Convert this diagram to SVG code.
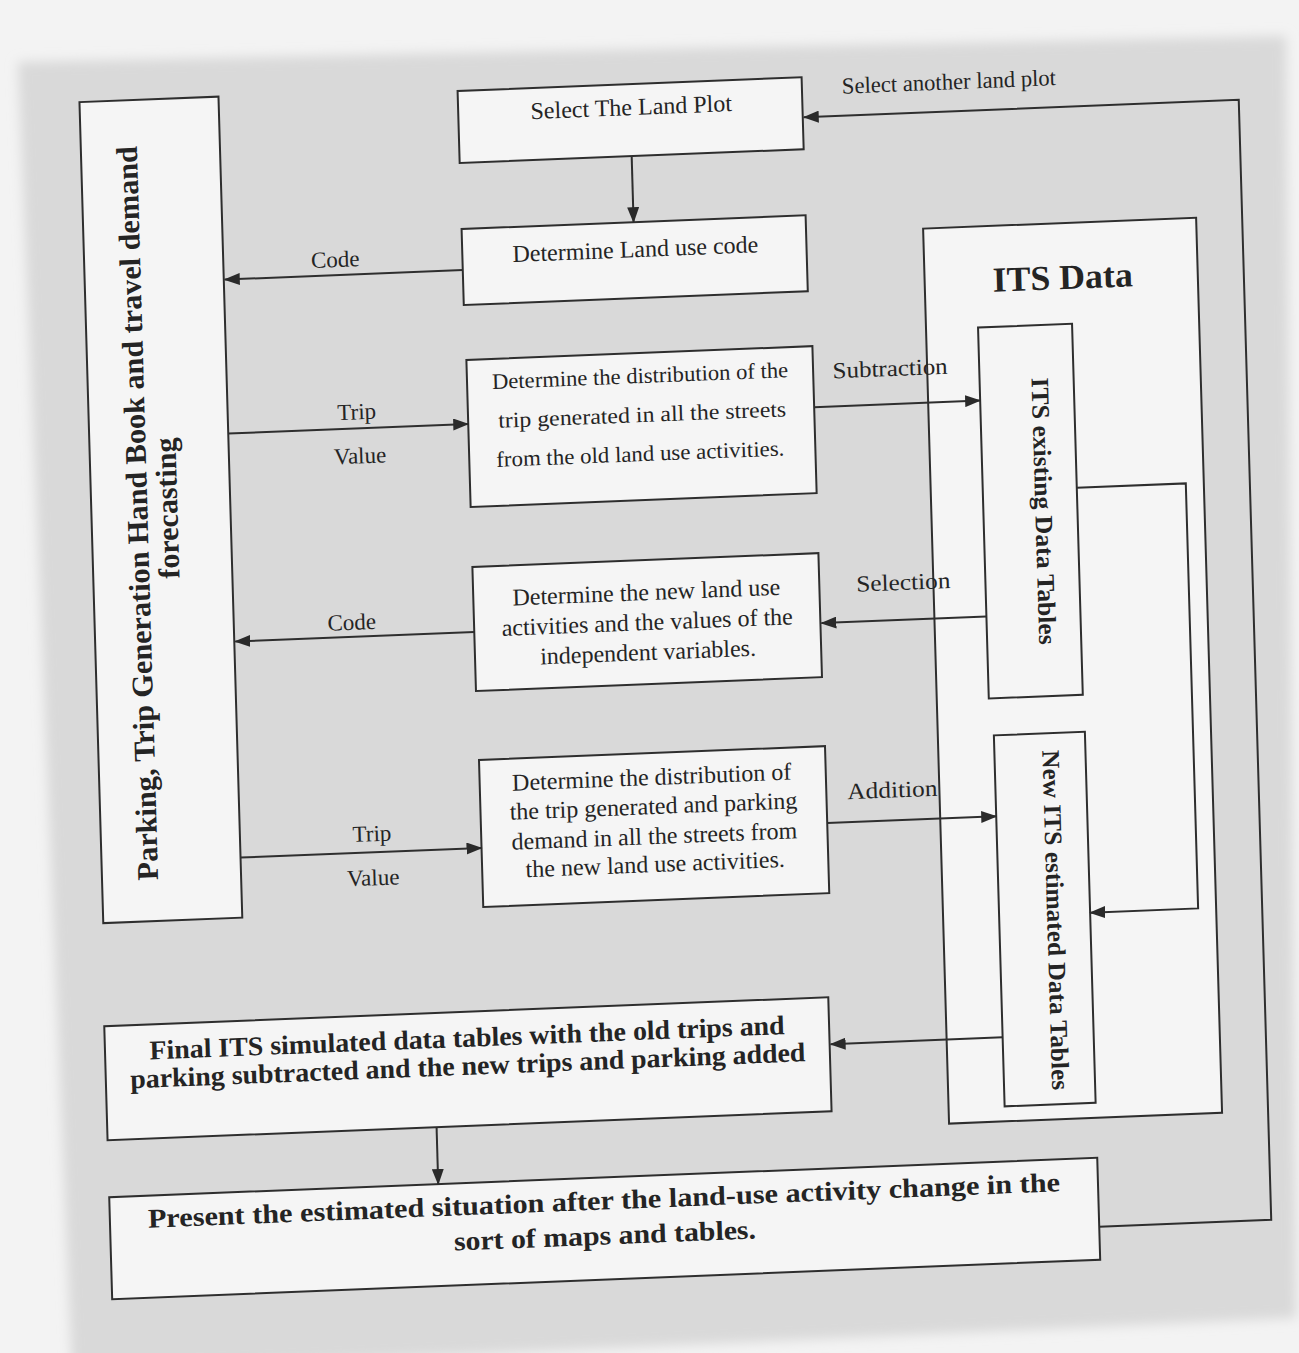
<svg xmlns="http://www.w3.org/2000/svg" width="1299" height="1353" viewBox="0 0 1299 1353">
  <defs>
    <filter id="soft" x="-5%" y="-5%" width="110%" height="110%">
      <feGaussianBlur stdDeviation="6"/>
    </filter>
    <marker id="arrow" markerUnits="userSpaceOnUse" markerWidth="16" markerHeight="12" refX="15" refY="6" orient="auto">
      <path d="M0,0 L16,6 L0,12 Z" fill="#2a2a2a"/>
    </marker>
    <style>
      .box { fill: #f5f5f5; stroke: #2e2e2e; stroke-width: 2; }
      .link-a { fill: none; stroke: #2e2e2e; stroke-width: 2; marker-end: url(#arrow); }
      text { font-family: "Liberation Serif", "Times New Roman", serif; fill: #242424; }
      .t { font-size: 24px; text-anchor: middle; }
      .s { font-size: 22px; text-anchor: middle; }
      .lbl { font-size: 23px; text-anchor: middle; }
      .b { font-size: 27px; font-weight: bold; text-anchor: middle; }
      .v { font-size: 25px; font-weight: bold; text-anchor: middle; }
    </style>
  </defs>

  <!-- sheet -->
  <rect x="0" y="0" width="1299" height="1353" fill="#f3f3f3"/>
  <polygon points="18,62 1286,36 1296,1318 72,1372" fill="#d9d9d9" filter="url(#soft)"/>

  <g transform="matrix(1,-0.04,0.029,1,-18.85,26)">
    <g id="handbook">
      <rect class="box" x="96" y="80" width="139" height="821"/>
      <text class="b" transform="translate(152,493) rotate(-90)" style="font-size:30px" textLength="734" lengthAdjust="spacingAndGlyphs">Parking, Trip Generation Hand Book and travel demand</text>
      <text class="b" transform="translate(182,489) rotate(-90)" style="font-size:30px">forecasting</text>
    </g>

    <g id="select-plot">
      <rect class="box" x="474" y="84" width="344" height="72"/>
      <text class="t" x="647" y="115">Select The Land Plot</text>
    </g>

    <g id="land-use-code">
      <rect class="box" x="474" y="222" width="344" height="76"/>
      <text class="t" x="647" y="257">Determine Land use code</text>
    </g>

    <g id="old-distribution">
      <rect class="box" x="475" y="353" width="346" height="147"/>
      <text class="s" x="648" y="383" textLength="296" lengthAdjust="spacingAndGlyphs">Determine the distribution of the</text>
      <text class="s" x="649" y="422" textLength="288" lengthAdjust="spacingAndGlyphs">trip generated in all the streets</text>
      <text class="s" x="646" y="461" textLength="288" lengthAdjust="spacingAndGlyphs">from the old land use activities.</text>
    </g>

    <g id="new-land-use">
      <rect class="box" x="475" y="560" width="346" height="124"/>
      <text class="t" x="648" y="600">Determine the new land use</text>
      <text class="t" x="648" y="630">activities and the values of the</text>
      <text class="t" x="648" y="660">independent variables.</text>
    </g>

    <g id="new-distribution">
      <rect class="box" x="476" y="753" width="346" height="147"/>
      <text class="t" x="648" y="785">Determine the distribution of</text>
      <text class="t" x="649" y="814">the trip generated and parking</text>
      <text class="t" x="649" y="844">demand in all the streets from</text>
      <text class="t" x="649" y="872">the new land use activities.</text>
    </g>

    <g id="its-data">
      <rect class="box" x="935" y="240" width="273" height="895"/>
      <text class="b" x="1073" y="306" style="font-size:35px" textLength="140" lengthAdjust="spacingAndGlyphs">ITS Data</text>
    </g>

    <g id="its-existing">
      <rect class="box" x="987" y="341" width="94" height="371"/>
      <text class="v" transform="translate(1039,527) rotate(90)" textLength="267" lengthAdjust="spacingAndGlyphs">ITS existing Data Tables</text>
    </g>

    <g id="its-new">
      <rect class="box" x="991" y="749" width="91" height="371"/>
      <text class="v" transform="translate(1039,936) rotate(90)" textLength="340" lengthAdjust="spacingAndGlyphs">New ITS estimated Data Tables</text>
    </g>

    <g id="final-tables">
      <rect class="box" x="94" y="1004" width="724" height="114"/>
      <text class="b" x="456" y="1039" textLength="635" lengthAdjust="spacingAndGlyphs">Final ITS simulated data tables with the old trips and</text>
      <text class="b" x="456" y="1067" textLength="675" lengthAdjust="spacingAndGlyphs">parking subtracted and the new trips and parking added</text>
    </g>

    <g id="present">
      <rect class="box" x="94" y="1175" width="988" height="102"/>
      <text class="b" x="588" y="1207" textLength="912" lengthAdjust="spacingAndGlyphs">Present the estimated situation after the land-use activity change in the</text>
      <text class="b" x="588" y="1242" textLength="302" lengthAdjust="spacingAndGlyphs">sort of maps and tables.</text>
    </g>

    <!-- connectors, drawn over the boxes they cross -->
    <g id="connectors">
      <path class="link-a" d="M646 156 V222"/>
      <path class="link-a" d="M474 263 H236"/>
      <path class="link-a" d="M235 417 H475"/>
      <path class="link-a" d="M475 625 H236"/>
      <path class="link-a" d="M235 841 H476"/>
      <path class="link-a" d="M821 414 H987"/>
      <path class="link-a" d="M987 630 H822"/>
      <path class="link-a" d="M822 830 H991"/>
      <path class="link-a" d="M1081 505 H1190 V930 H1082"/>
      <path class="link-a" d="M991 1051 H819"/>
      <path class="link-a" d="M423 1118 V1175"/>
      <path class="link-a" d="M1082 1244 H1254 V124 H819"/>
      <text class="lbl" x="965" y="102" textLength="214" lengthAdjust="spacingAndGlyphs">Select another land plot</text>
      <text class="lbl" x="347" y="255">Code</text>
      <text class="lbl" x="364" y="408">Trip</text>
      <text class="lbl" x="366" y="452">Value</text>
      <text class="lbl" x="353" y="618">Code</text>
      <text class="lbl" x="367" y="830">Trip</text>
      <text class="lbl" x="367" y="874">Value</text>
      <text class="lbl" x="898" y="386" textLength="115" lengthAdjust="spacingAndGlyphs">Subtraction</text>
      <text class="lbl" x="905" y="600" textLength="94" lengthAdjust="spacingAndGlyphs">Selection</text>
      <text class="lbl" x="888" y="807" textLength="90" lengthAdjust="spacingAndGlyphs">Addition</text>
    </g>
  </g>
</svg>
